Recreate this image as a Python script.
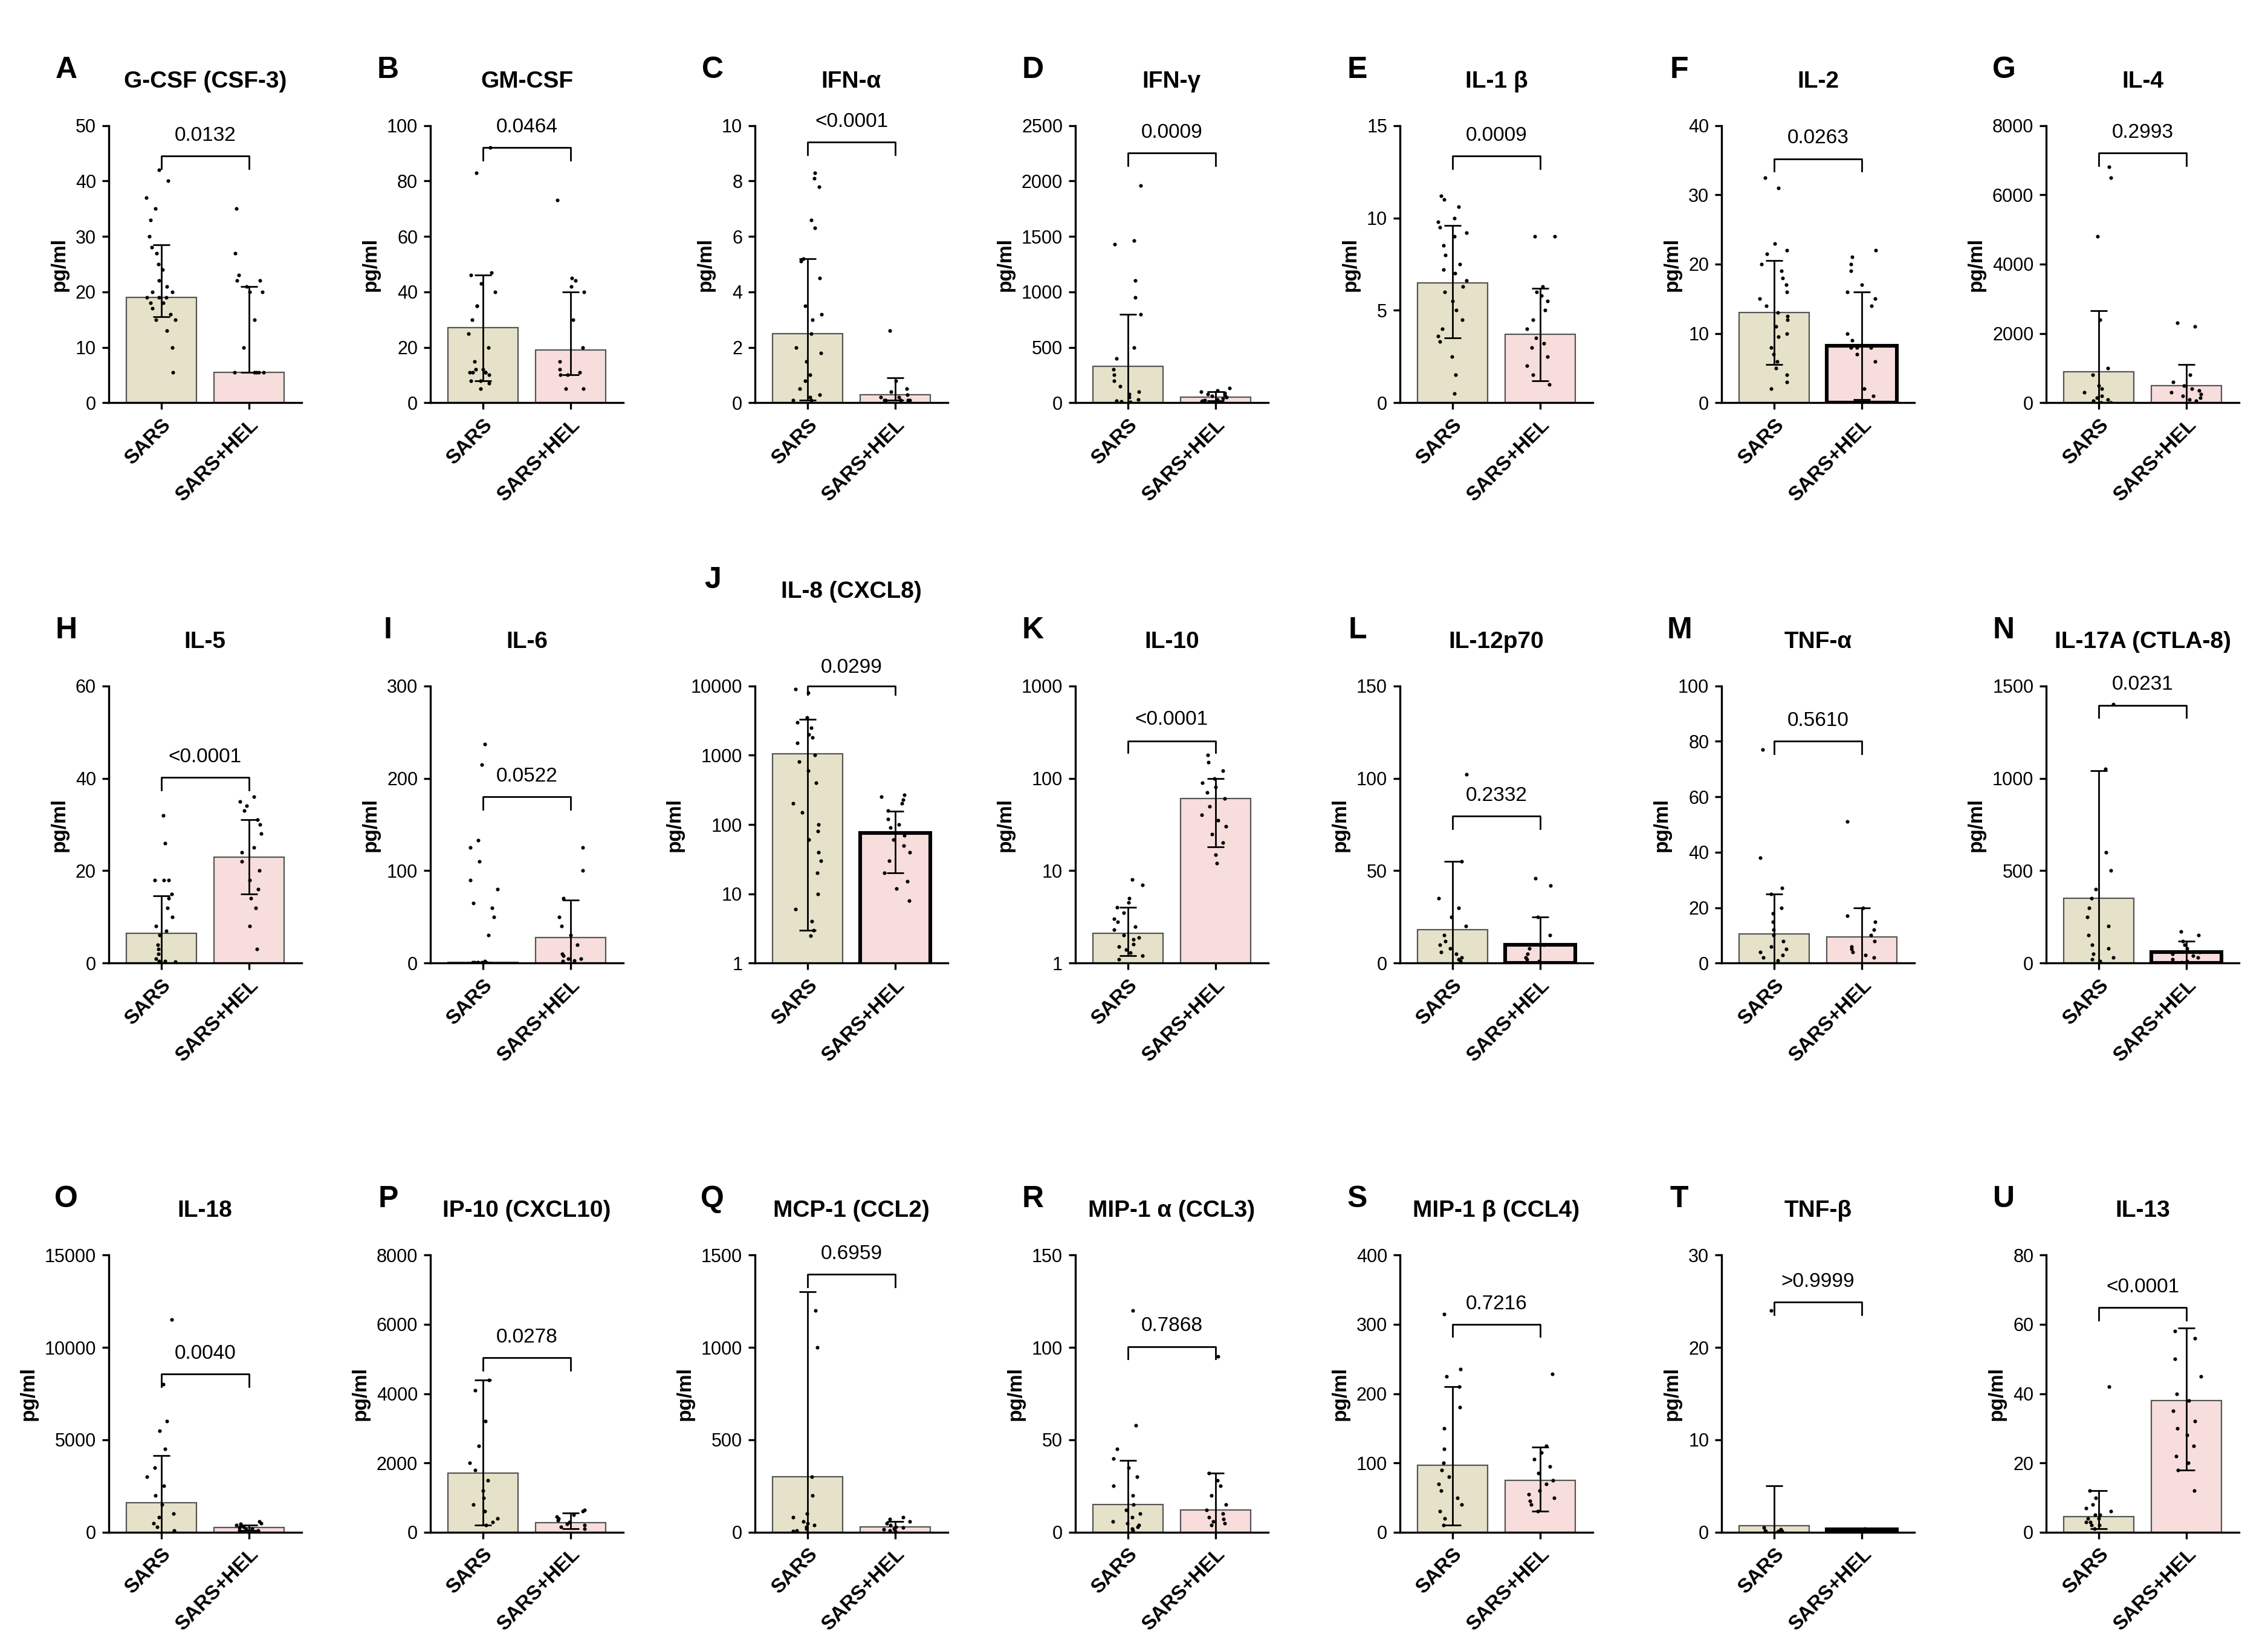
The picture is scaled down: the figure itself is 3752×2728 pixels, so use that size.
import numpy as np, pandas as pd, matplotlib
matplotlib.use("Agg")
import matplotlib.pyplot as plt, seaborn as sns

letters = list("ABCDEFGHIJKLMNOPQRSTU")
titles = ["G-CSF (CSF-3)","GM-CSF","IFN-α","IFN-γ","IL-1 β","IL-2","IL-4",
          "IL-5","IL-6","IL-8 (CXCL8)","IL-10","IL-12p70","TNF-α","IL-17A (CTLA-8)",
          "IL-18","IP-10 (CXCL10)","MCP-1 (CCL2)","MIP-1 α (CCL3)","MIP-1 β (CCL4)","TNF-β","IL-13"]
pvals = ["0.0132","0.0464","<0.0001","0.0009","0.0009","0.0263","0.2993",
         "<0.0001","0.0522","0.0299","<0.0001","0.2332","0.5610","0.0231",
         "0.0040","0.0278","0.6959","0.7868","0.7216",">0.9999","<0.0001"]
groups = ["SARS","SARS+HEL"]
bar_sars = [19,27,2.5,330,6.5,13,900,6.5,1,1050,2.1,18,10.5,350,1600,1700,300,15,97,0.7,4.5]
bar_hel  = [5.5,19,0.3,50,3.7,8.2,500,23,28,75,60,10,9.5,60,250,280,30,12,75,0.3,38]
err_sars_lo = [15.5,8,0.1,0,3.5,5.5,0,0,1,3,1.2,0,0,0,0,200,0,0,10,0,1]
err_sars_hi = [28.5,46,5.2,800,9.6,20.5,2650,14.5,1,3300,4,55,25,1040,4150,4400,1300,39,210,5,12]
err_hel_lo = [5.5,10,0.1,20,1.2,0.5,0,15,0,20,18,0,0,0,100,100,0,0,30,0.3,18]
err_hel_hi = [21,40,0.9,100,6.2,16,1100,31,68,155,100,25,20,120,400,550,60,32,123,0.3,59]
ymax = [50,100,10,2500,15,40,8000,60,300,10000,1000,150,100,1500,15000,8000,1500,150,400,30,80]
ystep = [10,20,2,500,5,10,2000,20,100,None,None,50,20,500,5000,2000,500,50,100,10,20]
pts_sars = [
 [42,40,37,35,33,30,28,27,25,24,22,21,20,20,19,19,19,18,18,17,16,15,15,13,10,5.5],
 [92,83,47,46,43,40,35,35,30,25,20,15,12,12,11,11,11,11,10,8,8,7,5],
 [8.3,8.1,7.8,6.6,6.3,5.2,5.1,4.5,3.5,3.2,3,2.5,2,1.8,1.5,1,0.8,0.5,0.3,0.2,0.1,0.1],
 [1960,1460,1430,1100,950,800,500,400,300,250,200,150,100,80,50,30,20,10,5],
 [11.2,11,10.6,10,9.8,9.5,9.2,9,8.5,8,7.5,7.2,7,6.6,6.3,6,5.5,5,4.5,4,3.6,3.3,2.5,1.5,0.5],
 [32.5,31,23,22,21.5,20,19,18,17,16,15,14,13,12.5,12,11,10,9.5,8,7,6,5,4,3,2],
 [6800,6500,4800,2400,1000,800,500,400,300,200,150,100,50,10,5],
 [32,26,18,18,18,15,14,12,10,8,7,6,4,3,2,1,0.5,0.5,0.3],
 [237,215,133,125,110,90,80,65,60,50,30,2,1,1,1,1,1,1],
 [9000,8000,3500,3000,2500,2000,1800,1500,1000,800,600,400,200,150,100,80,60,40,30,20,10,6,4,3,2.5],
 [8,7,5,4.5,4,3.5,3,2.8,2.5,2.3,2,1.9,1.8,1.6,1.5,1.4,1.3,1.2,1.1],
 [102,55,35,30,25,20,15,12,10,8,6,5,3,2,1],
 [77,38,27,25,20,18,15,12,10,8,6,5,4,3,2,1],
 [1400,1050,600,500,400,350,300,250,200,150,100,80,50,30,20,10],
 [11500,8000,6000,5500,4500,3500,3000,2500,2000,1500,1000,800,500,300,100,50],
 [4400,4100,3200,2500,2000,1800,1500,1200,1000,800,600,400,300,200],
 [1200,1000,300,200,100,80,60,50,40,30,20,10,5],
 [120,58,45,40,35,30,25,20,15,12,10,8,6,5,4,3,2,1],
 [315,235,225,210,180,150,120,100,90,80,70,60,50,40,30,20,10],
 [24,0.5,0.3,0.2,0.1,0.1,0.1,0,0,0],
 [42,12,10,8,7,6,5,5,4,4,3,3,2,2,1]]
pts_hel = [
 [35,27,23,22,22,21,20,20,15,10,5.5,5.5,5.5,5.5,5.5],
 [73,45,44,42,40,30,20,15,12,11,10,10,5,5],
 [2.6,0.8,0.5,0.4,0.3,0.2,0.2,0.1,0.1,0.1,0.1,0.1],
 [130,110,100,90,80,70,60,50,40,30,25,20,15,10],
 [9,9,6.3,6,5.8,5.5,5,4.5,4,3.5,3.2,3,2.5,2,1.5,1],
 [22,21,20,19,17,16,15,14,10,9,8,8,8,7,6,2,1],
 [2300,2200,800,600,500,400,350,300,250,200,150,100,50],
 [36,35,34,33,31,30,28,25,24,22,20,18,16,14,12,8,3],
 [125,100,70,50,40,30,20,10,8,5,5,3,2],
 [270,250,230,200,160,120,100,90,70,60,50,40,30,20,15,12,8],
 [180,150,120,100,90,80,70,60,50,40,35,30,25,20,15,12],
 [46,42,25,15,10,8,5,3,2,1],
 [51,20,17,15,12,10,8,6,5,4,3,2],
 [170,150,120,100,80,60,50,40,30,20,10,5],
 [600,500,450,400,350,300,250,200,150,100,80],
 [650,600,500,450,400,350,300,250,200,150,100],
 [80,70,60,50,40,30,25,20,15,10,5],
 [95,32,28,25,20,15,12,10,8,7,6,5,4],
 [228,125,115,105,95,85,75,70,60,55,50,45,40,30],
 [0.4,0.3,0.3,0.2,0.2,0.1,0.1],
 [58,56,50,45,40,38,35,32,30,28,25,22,20,18,12]]

# layout (not data)
bracket_frac = [0.89,0.92,0.94,0.9,0.89,0.88,0.9, 0.67,0.6,1.0,0.8,0.53,0.8,0.93, 0.57,0.63,0.93,0.67,0.75,0.83,0.81]
thick_hel = {5,9,11,13,19}
lefts = [75,297,521,742,966,1188,1412]
bottoms = [276,660,1050]
W, H = 1565, 1130

plt.rcParams["font.family"] = "Liberation Sans"
fig = plt.figure(figsize=(18.76,13.64), dpi=200)
np.random.seed(1)
for i in range(21):
    r, c = divmod(i, 7)
    ax = fig.add_axes([lefts[c]/W, 1-bottoms[r]/H, 133/W, 190/H])
    logy = ystep[i] is None
    bdf = pd.DataFrame({"g": groups, "v": [bar_sars[i], bar_hel[i]]})
    sns.barplot(data=bdf, x="g", y="v", hue="g", palette=["#ebe4c4","#fcd9d9"],
                errorbar=None, width=0.8, ax=ax, legend=False, linewidth=0.8, edgecolor="#555555")
    if i in thick_hel:
        ax.patches[1].set_edgecolor("black"); ax.patches[1].set_linewidth(2.2)
    lo = [bar_sars[i]-err_sars_lo[i], bar_hel[i]-err_hel_lo[i]]
    hi = [err_sars_hi[i]-bar_sars[i], err_hel_hi[i]-bar_hel[i]]
    ax.errorbar([0,1], [bar_sars[i], bar_hel[i]], yerr=[lo, hi], fmt="none",
                ecolor="black", elinewidth=1, capsize=5, capthick=1, zorder=3)
    pdf = pd.DataFrame({"g": ["SARS"]*len(pts_sars[i]) + ["SARS+HEL"]*len(pts_hel[i]),
                        "v": pts_sars[i] + pts_hel[i]})
    if logy:
        pdf = pdf[pdf.v >= 1]
    sns.stripplot(data=pdf, x="g", y="v", order=groups, color="black", size=2.2, jitter=0.17, ax=ax, zorder=4)
    if logy:
        ax.set_yscale("log")
        ax.set_ylim(1, ymax[i])
        ax.set_yticks([10**k for k in range(int(np.log10(ymax[i]))+1)])
        ax.set_yticklabels([str(10**k) for k in range(int(np.log10(ymax[i]))+1)])
        ax.minorticks_off()
        by = 10**(np.log10(ymax[i])*bracket_frac[i])
        dy = by*0.75
    else:
        ax.set_ylim(0, ymax[i])
        ax.set_yticks(np.arange(0, ymax[i]+1e-9, ystep[i]))
        by = ymax[i]*bracket_frac[i]
        dy = by - ymax[i]*0.045
    ax.plot([0,0,1,1], [dy,by,by,dy], color="black", lw=1, clip_on=False)
    ax.text(0.5, by*(1.35 if logy else 1) + (0 if logy else ymax[i]*0.04), pvals[i],
            ha="center", va="bottom", fontsize=12)
    ax.set_xlim(-0.6, 1.6)
    ax.set_xlabel(""); ax.set_ylabel("pg/ml", fontsize=12, fontweight="bold")
    ax.set_xticks([0,1]); ax.set_xticklabels(groups, rotation=45, ha="right", rotation_mode="anchor",
                                               fontsize=12, fontweight="bold")
    ax.tick_params(axis="y", labelsize=11, width=1.2, length=4)
    ax.tick_params(axis="x", width=1.2, length=4)
    for s in ["top","right"]: ax.spines[s].set_visible(False)
    for s in ["left","bottom"]: ax.spines[s].set_linewidth(1.2)
    ty = 1.3 if i == 9 else 1.12
    ax.text(0.5, ty, titles[i], transform=ax.transAxes, ha="center", va="bottom", fontsize=14, fontweight="bold")
    ax.text(-0.22, ty+0.03, letters[i], transform=ax.transAxes, ha="center", va="bottom", fontsize=18, fontweight="bold")
fig.savefig("out.png", dpi=200, facecolor="white")
